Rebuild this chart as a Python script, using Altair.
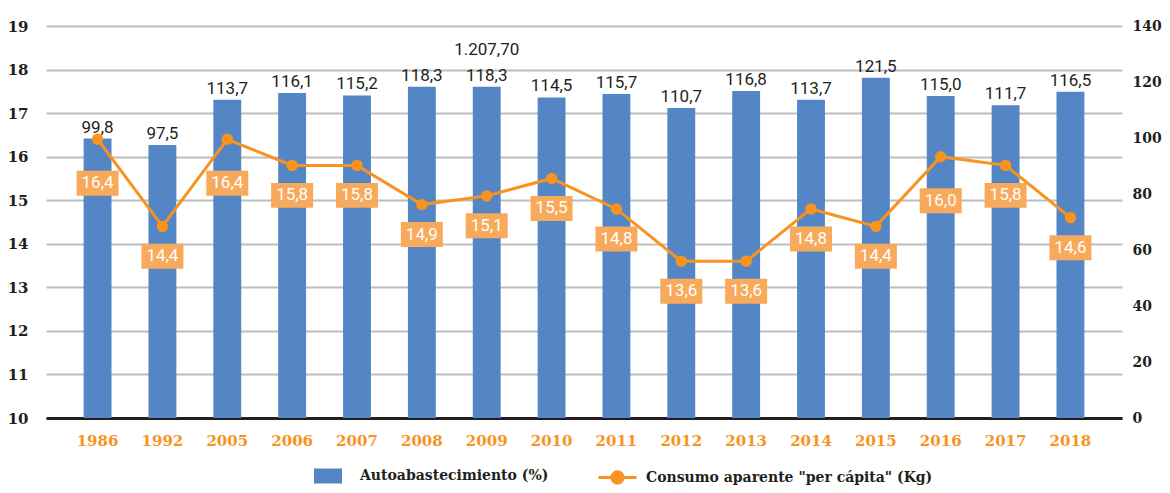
import altair as alt
import pandas as pd

# ---- data ----
years = ["1986", "1992", "2005", "2006", "2007", "2008", "2009", "2010",
         "2011", "2012", "2013", "2014", "2015", "2016", "2017", "2018"]
autoabastecimiento = [99.8, 97.5, 113.7, 116.1, 115.2, 118.3, 118.3, 114.5,
                      115.7, 110.7, 116.8, 113.7, 121.5, 115.0, 111.7, 116.5]
consumo = [16.4, 14.4, 16.4, 15.8, 15.8, 14.9, 15.1, 15.5,
           14.8, 13.6, 13.6, 14.8, 14.4, 16.0, 15.8, 14.6]
note_year = "2009"
note_label = "1.207,70"
left_ticks = list(range(10, 20))
right_ticks = list(range(0, 141, 20))

S1 = "Autoabastecimiento (%)"
S2 = 'Consumo aparente "per cápita" (Kg)'

df = pd.DataFrame({"year": years, "auto": autoabastecimiento, "consumo": consumo})
df["note"] = [note_label if y == note_year else "" for y in years]
df["s1"] = S1
df["s2"] = S2

BLUE = "#5486C6"
ORANGE = "#F7931E"
BOX = "#F8AA5C"
DARK = "#231F20"
GRID = "#BDBDBD"
AXFONT = "DejaVu Serif"
VALFONT = "Roboto"

base = alt.Chart(df).transform_calculate(
    auto_lbl="replace(format(datum.auto, '.1f'), '.', ',')",
    cons_lbl="replace(format(datum.consumo, '.1f'), '.', ',')",
)

x = alt.X(
    "year:N", sort=years, title=None,
    scale=alt.Scale(paddingInner=0.57, paddingOuter=0.58),
    axis=alt.Axis(labelAngle=0, ticks=False, domainColor=DARK, domainWidth=3,
                  labelColor=ORANGE, labelFont=AXFONT, labelFontWeight="bold",
                  labelFontSize=15, labelPadding=15, grid=False),
)

y_right = alt.Y(
    "auto:Q", title=None, scale=alt.Scale(domain=[0, 140], nice=False),
    axis=alt.Axis(orient="right", values=right_ticks, grid=False, domain=False,
                  ticks=False, labelFont=AXFONT, labelFontWeight="bold",
                  labelFontSize=14, labelColor=DARK, labelPadding=10),
)

y_left = alt.Y(
    "consumo:Q", title=None, scale=alt.Scale(domain=[10, 19], nice=False),
    axis=alt.Axis(orient="left", values=left_ticks, grid=True, gridColor=GRID,
                  gridWidth=2, domain=False, ticks=False, labelFont=AXFONT,
                  labelFontWeight="bold", labelFontSize=15, labelColor=DARK,
                  labelPadding=18),
)

bars = base.mark_bar().encode(
    x=x, y=y_right,
    fill=alt.Fill(
        "s1:N", scale=alt.Scale(domain=[S1], range=[BLUE]),
        legend=alt.Legend(title=None, orient="none", legendX=268, legendY=436,
                          symbolType="M-1,-0.536H1V0.536H-1Z", symbolSize=784,
                          symbolStrokeWidth=0, labelFont=AXFONT,
                          labelFontWeight="bold", labelFontSize=14,
                          labelColor=DARK, labelOffset=18, labelLimit=400),
    ),
)

bar_text = base.mark_text(baseline="alphabetic", dy=-6, font=VALFONT,
                          fontSize=17, color=DARK).encode(
    x=x, y=y_right, text="auto_lbl:N")

note = base.transform_filter(alt.datum.note != "").mark_text(
    baseline="alphabetic", dy=-32, font=VALFONT, fontSize=17, color=DARK
).encode(x=x, y=y_right, text="note:N")

line = base.mark_line(strokeWidth=3).encode(
    x=x, y=y_left,
    stroke=alt.Stroke(
        "s2:N", scale=alt.Scale(domain=[S2], range=[ORANGE]),
        legend=alt.Legend(title=None, orient="none", legendX=551, legendY=431,
                          symbolType="M-1,0H-0.3M0.3,0H1M-0.3,0A0.3,0.3 0 1,1 0.3,0A0.3,0.3 0 1,1 -0.3,0Z",
                          symbolSize=1444, symbolStrokeWidth=3,
                          symbolFillColor=ORANGE, labelFont=AXFONT,
                          labelFontWeight="bold", labelFontSize=14,
                          labelColor=DARK, labelOffset=8, labelLimit=400),
    ),
)

pts = base.mark_point(filled=True, size=130, color=ORANGE, opacity=1).encode(
    x=x, y=y_left)

OFFSET = "datum.consumo >= 16 ? 44 : 30"

boxes = base.mark_point(shape="M-1,-0.595H1V0.595H-1Z", size=1764, filled=True,
                        color=BOX, opacity=1, yOffset=alt.expr(OFFSET)).encode(
    x=x, y=y_left)

box_text = base.mark_text(baseline="middle", font=VALFONT, fontSize=17,
                          color="white", yOffset=alt.expr(OFFSET)).encode(
    x=x, y=y_left, text="cons_lbl:N")

right_layer = alt.layer(bars, bar_text, note)
left_layer = alt.layer(line, pts, boxes, box_text)

chart = alt.layer(right_layer, left_layer).resolve_scale(y="independent").properties(
    width=1076, height=392,
    padding={"left": 38, "top": 18, "right": 40, "bottom": 67},
    autosize=alt.AutoSizeParams(type="none"),
).configure_view(stroke=None)

chart.save("out.html", embed_options={"renderer": "svg", "actions": False})
